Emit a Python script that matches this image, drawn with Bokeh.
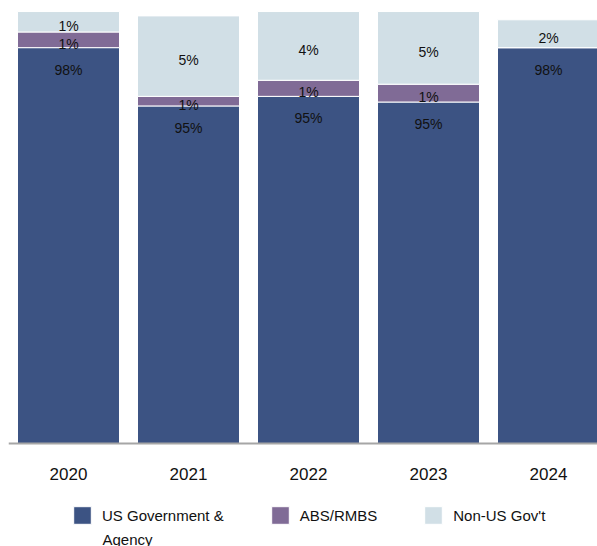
from bokeh.plotting import figure
from bokeh.models import FixedTicker, Legend, LegendItem, Range1d, ColumnDataSource, Label
from bokeh.core.properties import value
from bokeh.embed import file_html
from bokeh.resources import INLINE
import numpy as np

years = ["2020", "2021", "2022", "2023", "2024"]
series_names = ["US Government &", "ABS/RMBS", "Non-US Gov't"]
legend_wrap = "Agency"   # second line of the first legend entry
# bar heights as drawn (share of axis scale)
us_gov = [91.0, 77.6, 79.8, 78.5, 91.0]
abs_rmbs = [3.6, 2.2, 3.7, 4.1, 0.0]
non_us = [4.7, 18.5, 15.8, 16.7, 6.4]
# printed labels
us_labels = ["98%", "95%", "95%", "95%", "98%"]
abs_labels = ["1%", "1%", "1%", "1%", ""]
non_us_labels = ["1%", "5%", "4%", "5%", "2%"]

colors = ["#3C5383", "#806B96", "#D1DFE6"]
FONT = "Liberation Sans"

W, H = 597, 546
TOP, LEFT = 8, 8
PLOT_H = 435          # pixels from the top of the frame to the baseline
BELOW = H - TOP - PLOT_H
FRAME_W = W - LEFT
px_per_unit = PLOT_H / 100.0

xpos = list(range(len(years)))
src = ColumnDataSource(dict(x=xpos, us=us_gov, ab=abs_rmbs, nu=non_us))

p = figure(width=W, height=H, output_backend="svg", toolbar_location=None,
           x_range=Range1d(-0.5, -0.5 + FRAME_W / 120.0),
           y_range=Range1d(-BELOW / px_per_unit, 100),
           min_border_left=LEFT, min_border_right=0, min_border_top=TOP,
           min_border_bottom=0)
p.outline_line_color = None
p.grid.visible = False
p.yaxis.visible = False

rs = p.vbar_stack(["us", "ab", "nu"], x="x", width=0.85, source=src,
                  color=colors, line_color="white", line_width=1)

us_arr = np.array(us_gov)
ab_arr = np.array(abs_rmbs)
nu_arr = np.array(non_us)

common = dict(text_align="center", text_baseline="middle", text_font=value(FONT),
              text_font_size="14px", text_color="#111111")
p.text(x=xpos, y=list(us_arr), text=us_labels, y_offset=22, **common)
p.text(x=xpos, y=list(us_arr + ab_arr / 2), text=abs_labels, y_offset=4, **common)
p.text(x=xpos, y=list(us_arr + ab_arr + nu_arr / 2), text=non_us_labels, y_offset=4, **common)

ax = p.xaxis[0]
ax.fixed_location = 0
ax.ticker = FixedTicker(ticks=xpos)
ax.major_label_overrides = {i: y for i, y in enumerate(years)}
ax.major_tick_line_color = None
ax.minor_tick_line_color = None
ax.axis_line_color = "#A6A6A6"
ax.axis_line_width = 2
ax.major_label_standoff = 18
ax.major_label_text_font = FONT
ax.major_label_text_font_size = "17px"
ax.major_label_text_color = "#111111"

legend = Legend(items=[LegendItem(label=n, renderers=[r]) for n, r in zip(series_names, rs)],
                orientation="horizontal", location=(63, 20),
                border_line_color=None, background_fill_alpha=0,
                glyph_width=22, glyph_height=22, label_standoff=9, spacing=45,
                padding=0, margin=0, label_text_font=FONT,
                label_text_font_size="15px", label_text_color="#111111")
p.add_layout(legend)

p.add_layout(Label(x=94, y=16, x_units="screen", y_units="screen", text=legend_wrap,
                   text_font=FONT, text_font_size="15px", text_color="#111111",
                   text_baseline="top"))

open("out.html", "w").write(file_html(p, INLINE))
